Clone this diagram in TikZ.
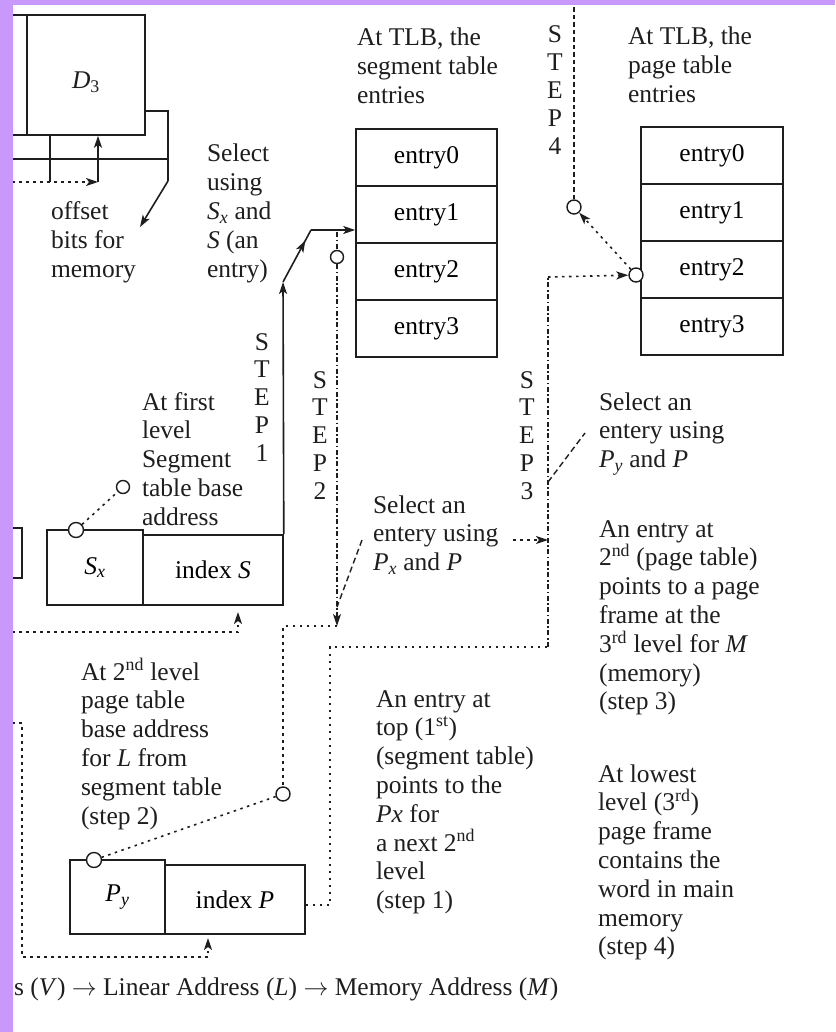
\documentclass[tikz,border=0pt]{standalone}
\usepackage{fontspec}
\setmainfont{Liberation Serif}
\usetikzlibrary{arrows.meta,calc,decorations.markings}
\definecolor{frame}{RGB}{200,153,250}
\definecolor{ink}{RGB}{30,30,30}
\newcommand{\dfont}{\fontsize{25.5pt}{28.8pt}\selectfont}
\newcommand{\sfont}{\fontsize{25.5pt}{27.8pt}\selectfont}
\newcommand{\fl}{\rule{0pt}{22pt}}
\begin{document}
\begin{tikzpicture}[x=1pt,y=-1pt,
  ln/.style={draw=ink,line width=1.6pt},
  cell/.style={draw=ink,line width=1.6pt,inner sep=0pt,font=\dfont},
  circ/.style={circle,draw=ink,fill=white,line width=1.4pt,minimum size=14pt,inner sep=0pt},
  txt/.style={anchor=north west,inner sep=0pt,outer sep=0pt,align=left,font=\dfont,text=ink},
  steplbl/.style={anchor=north,inner sep=0pt,outer sep=0pt,align=center,font=\sfont,text=ink},
  arr/.style={-{Stealth[length=12pt,width=8pt,inset=3pt]}},
  dots/.style={draw=ink,line width=1.6pt,dash pattern=on 2.5pt off 4.5pt},
  dashdot/.style={draw=ink,line width=1.4pt,dash pattern=on 5pt off 2.5pt on 1.6pt off 2.5pt},
  dsh/.style={draw=ink,line width=1.4pt,dash pattern=on 4.5pt off 3pt},
  ptr/.style={draw=ink,line width=1.4pt,dash pattern=on 6pt off 3.5pt}]
\useasboundingbox (0,0) rectangle (835,1032);
\fill[white] (0,0) rectangle (835,1032);

% ---------- top-left cut-off structure ----------
\draw[ln] (5,15) -- (27,15);
\draw[ln] (5,135) -- (27,135);
\node[cell,minimum width=118pt,minimum height=120pt] (D3) at (86,75) {};
\node[font=\dfont,text=ink] (D3lbl) at (86,82) {\textit{D}\textsubscript{3}};
\coordinate (brkT) at (145,111);
\coordinate (brkR) at (168,111);
\coordinate (brk) at (168,181);
\draw[ln] (brkT) -- (brkR) -- (brk);
\draw[ln] (5,159) -- (168,159);
\draw[ln] (50,135) -- (50,182);
\coordinate (offA) at (98,182);
\coordinate (offL) at (5,182);
\draw[ln,arr] (offA) -- (D3.south -| offA);
\draw[dots,arr] (offL) -- (offA);
\coordinate (offT) at (140,227);
\draw[ln,arr] (brk) -- (offT);
\node[txt] (offtxt) at (51,198) {\fl offset\\bits for\\memory};

\node[txt] (seltxt) at (207,140) {\fl Select\\using\\\textit{S}\textsubscript{\textit{x}} and\\\textit{S} (an\\entry)};

% ---------- segment table TLB ----------
\node[txt] (segtitle) at (357,24) {\fl At TLB, the\\segment table\\entries};
\node[cell,minimum width=141pt,minimum height=57pt] (seg0) at (426.5,157.5) {entry0};
\node[cell,minimum width=141pt,minimum height=57pt] (seg1) at (426.5,214.5) {entry1};
\node[cell,minimum width=141pt,minimum height=57pt] (seg2) at (426.5,271.5) {entry2};
\node[cell,minimum width=141pt,minimum height=57pt] (seg3) at (426.5,328.5) {entry3};

% ---------- page table TLB ----------
\node[txt] (pgtitle) at (628,23) {\fl At TLB, the\\page table\\entries};
\node[cell,minimum width=142pt,minimum height=57pt] (pg0) at (712,155.5) {entry0};
\node[cell,minimum width=142pt,minimum height=57pt] (pg1) at (712,212.5) {entry1};
\node[cell,minimum width=142pt,minimum height=57pt] (pg2) at (712,269.5) {entry2};
\node[cell,minimum width=142pt,minimum height=57pt] (pg3) at (712,326.5) {entry3};

% ---------- STEP 4 ----------
\node[steplbl] (st4) at (555,21) {\fl S\\T\\E\\P\\4};
\node[circ] (c6) at (574,207) {};
\node[circ] (c7) at (636,275) {};
\coordinate (s4top) at (574,0);
\draw[dsh] (s4top) -- (c6);
\draw[dots,arr] (c7) -- (c6);

% ---------- virtual address fields ----------
\draw[ln] (5,528) -- (22,528) -- (22,578) -- (5,578);
\node[cell,minimum width=96pt,minimum height=75pt] (Sx) at (95,567.5) {\textit{S}\textsubscript{\textit{x}}};
\node[cell,minimum width=140pt,minimum height=70pt] (indexS) at (213,570) {index \textit{S}};
\node[circ,minimum size=15pt] (c1) at (76,530) {};
\node[circ,minimum size=13pt] (c2) at (123,487) {};
\draw[dots] (c1) -- (c2);
\node[txt] (firsttxt) at (142,388) {\fl At first\\level\\Segment\\table base\\address};

% ---------- STEP 1 ----------
\node[steplbl] (st1) at (262,328) {\fl S\\T\\E\\P\\1};
\coordinate (s1a) at (283,282);
\coordinate (s1b) at (311,230);
\draw[ln,arr] (indexS.north east) -- (s1a);
\draw[ln,postaction={decorate,decoration={markings,mark=at position 0.8 with {\arrow{Stealth[length=12pt,width=8pt,inset=3pt]}}}}] (s1a) -- (s1b);
\draw[ln,arr] (s1b) -- (s1b -| seg1.west);

% ---------- STEP 2 ----------
\node[steplbl] (st2) at (320,366) {\fl S\\T\\E\\P\\2};
\node[circ,minimum size=13pt] (c3) at (337,257) {};
\coordinate (s2top) at (337,232);
\coordinate (s2end) at (337,626);
\coordinate (s2bend) at (283,626);
\draw[dashdot] (s2top) -- (c3);
\draw[dashdot,arr] (c3) -- (s2end);
\node[circ] (c4) at (283,794) {};
\draw[dots] (s2end) -- (s2bend) -- (c4);

\node[txt] (selPx) at (373,491) {\fl Select an\\entery using\\\textit{P}\textsubscript{\textit{x}} and \textit{P}};
\coordinate (pxA) at (362,540);
\coordinate (pxB) at (337,607);
\draw[ptr] (pxA) -- (pxB);

% ---------- STEP 3 ----------
\node[steplbl] (st3) at (527,366) {\fl S\\T\\E\\P\\3};
\coordinate (s3top) at (548,277);
\coordinate (s3bot) at (548,647);
\coordinate (s3mid) at (548,540);
\coordinate (selPxEnd) at (513,540);
\draw[dashdot] (s3bot) -- (s3top);
\draw[dots,arr] (s3top) -- (c7);
\draw[dots,arr] (selPxEnd) -- (s3mid);

\node[txt] (selPy) at (599,388) {\fl Select an\\entery using\\\textit{P}\textsubscript{\textit{y}} and \textit{P}};
\coordinate (pyA) at (548,482);
\coordinate (pyB) at (585,433);
\draw[ptr] (pyA) -- (pyB);

\node[txt] (entry2nd) at (599,515) {\fl An entry at\\2\textsuperscript{nd} (page table)\\points to a page\\frame at the\\3\textsuperscript{rd} level for \textit{M}\\(memory)\\(step 3)};

% ---------- second level fields ----------
\node[cell,minimum width=95pt,minimum height=74pt] (Py) at (117.5,897) {\textit{P}\textsubscript{\textit{y}}};
\node[cell,minimum width=140pt,minimum height=69pt] (indexP) at (235,899.5) {index \textit{P}};
\node[circ,minimum size=15pt] (c5) at (94,860) {};
\draw[dots] (c4) -- (c5);
\node[txt] (secondtxt) at (81,658) {\fl At 2\textsuperscript{nd} level\\page table\\base address\\for \textit{L} from\\segment table\\(step 2)};

\coordinate (pcorner) at (330,905);
\coordinate (pbend) at (330,647);
\draw[dots] ($(indexP.east)+(0,5.5)$) -- (pcorner) -- (pbend) -- (s3bot);

\coordinate (sUnder) at (238,632);
\coordinate (sUnderL) at (5,632);
\draw[dots,arr] (sUnderL) -- (sUnder) -- (238,612);

\coordinate (pLtop) at (5,723);
\coordinate (pLa) at (22,723);
\coordinate (pLb) at (22,957);
\coordinate (pLc) at (208,957);
\draw[dots,arr] (pLtop) -- (pLa) -- (pLb) -- (pLc) -- (208,938);

\node[txt] (toptxt) at (376,685) {\fl An entry at\\top (1\textsuperscript{st})\\(segment table)\\points to the\\\textit{Px} for\\a next 2\textsuperscript{nd}\\level\\(step 1)};
\node[txt] (lowtxt) at (598,760) {\fl At lowest\\level (3\textsuperscript{rd})\\page frame\\contains the\\word in main\\memory\\(step 4)};

\node[anchor=base west,inner sep=0pt,font=\dfont,text=ink] (caption) at (14,995) {s (\textit{V}) $\rightarrow$ Linear Address (\textit{L}) $\rightarrow$ Memory Address (\textit{M})};

% ---------- frame ----------
\fill[frame] (0,0) rectangle (13,1032);
\fill[frame] (0,0) rectangle (835,5);
\end{tikzpicture}
\end{document}
